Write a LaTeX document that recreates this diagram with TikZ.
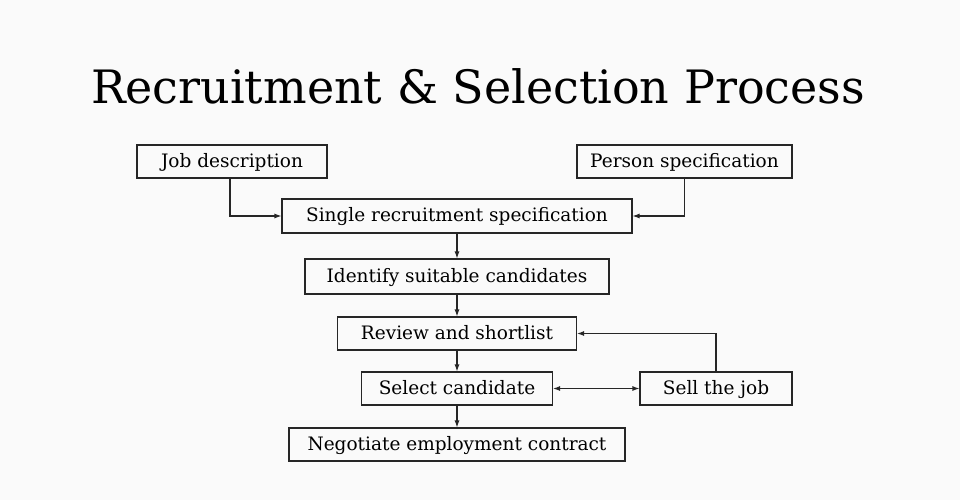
\documentclass[tikz,border=0pt]{standalone}
\usepackage{fontspec}
\setmainfont{DejaVu Serif}
\usetikzlibrary{arrows.meta}
\begin{document}
\begin{tikzpicture}[x=1pt,y=-1pt,
  box/.style={draw=black!85,line width=1.1pt,inner sep=0pt,text depth=0.25em,font=\fontsize{18.5}{22}\selectfont},
  arr/.style={draw=black!85,line width=1.1pt,-{Latex[length=7pt,width=5pt]}},
  darr/.style={draw=black!85,line width=1.1pt,{Latex[length=7pt,width=5pt]}-{Latex[length=7pt,width=5pt]}}]
\fill[black!2] (0,0) rectangle (960,500);
\useasboundingbox (0,0) rectangle (960,500);
\node (title) at (478,86) {\fontsize{46}{54}\selectfont Recruitment \& Selection Process};
\node[box,minimum width=190pt,minimum height=33pt] (jd) at (232,161.5) {Job description};
\node[box,minimum width=215pt,minimum height=33pt] (ps) at (684.5,161.5) {Person specification};
\node[box,minimum width=350pt,minimum height=34pt] (srs) at (457,216) {Single recruitment specification};
\node[box,minimum width=304pt,minimum height=35pt] (isc) at (457,276.5) {Identify suitable candidates};
\node[box,minimum width=239pt,minimum height=33pt] (rs) at (457,333.5) {Review and shortlist};
\node[box,minimum width=191pt,minimum height=33pt] (sc) at (457,388.5) {Select candidate};
\node[box,minimum width=152pt,minimum height=33pt] (sj) at (716,388.5) {Sell the job};
\node[box,minimum width=336pt,minimum height=33pt] (nec) at (457,444.5) {Negotiate employment contract};
\draw[arr] (jd.south -| 230,0) |- (srs.west);
\draw[arr] (ps.south) |- (srs.east);
\draw[arr] (srs) -- (isc);
\draw[arr] (isc) -- (rs);
\draw[arr] (rs) -- (sc);
\draw[arr] (sc) -- (nec);
\draw[darr] (sc) -- (sj);
\draw[arr] (sj.north) |- (rs.east);
\end{tikzpicture}
\end{document}
